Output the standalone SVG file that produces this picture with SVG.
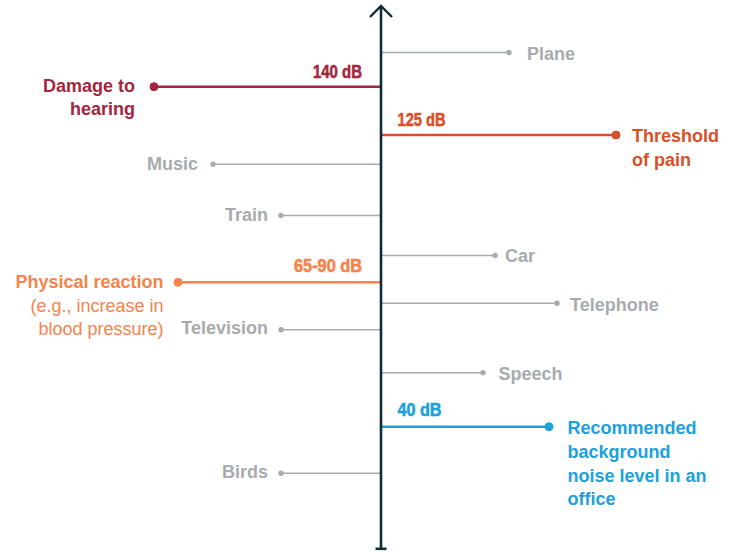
<svg xmlns="http://www.w3.org/2000/svg" width="734" height="552" viewBox="0 0 734 552">
<style>
text{font-family:"Liberation Sans",Arial,sans-serif;font-size:18px}
.b{font-weight:bold}
.g{fill:#A8ABAE}
.gl{stroke:#A8ABAE;stroke-width:1.6;fill:none}
.gd{fill:#A8ABAE}
.db{font-weight:bold;font-size:19px;stroke-width:0.6}
.r{text-anchor:end}
.c1{fill:#A4263E;stroke:#A4263E}
.c2{fill:#D8502A;stroke:#D8502A}
.c3{fill:#F5834A;stroke:#F5834A}
.c4{fill:#1BA1DC;stroke:#1BA1DC}
text.c1,text.c2,text.c3,text.c4{stroke-width:0}
text.db{stroke-width:0.6}
</style>
<rect width="734" height="552" fill="#fff"/>
<g id="connectors">
<line class="gl" x1="381" y1="52.5" x2="509" y2="52.5"/>
<line class="gl" x1="381" y1="164.3" x2="213" y2="164.3"/>
<line class="gl" x1="381" y1="215.5" x2="281" y2="215.5"/>
<line class="gl" x1="381" y1="255.5" x2="495" y2="255.5"/>
<line class="gl" x1="381" y1="303.3" x2="557" y2="303.3"/>
<line class="gl" x1="381" y1="329.8" x2="281" y2="329.8"/>
<line class="gl" x1="381" y1="372.7" x2="483" y2="372.7"/>
<line class="gl" x1="381" y1="473.3" x2="281" y2="473.3"/>
<line x1="381" y1="86.7" x2="154" y2="86.7" stroke="#A4263E" stroke-width="2.4"/>
<line x1="381" y1="135" x2="616" y2="135" stroke="#D8502A" stroke-width="2.4"/>
<line x1="381" y1="282.3" x2="178" y2="282.3" stroke="#F5834A" stroke-width="2.4"/>
<line x1="381" y1="426.7" x2="549" y2="426.7" stroke="#1BA1DC" stroke-width="2.4"/>
</g>
<g id="axis">
<line x1="381" y1="6" x2="381" y2="549" stroke="#0E2B3A" stroke-width="2.6"/>
<polyline points="370,17 381,6 392,17" fill="none" stroke="#0E2B3A" stroke-width="2.4"/>
<line x1="375.5" y1="548.8" x2="386.5" y2="548.8" stroke="#0E2B3A" stroke-width="2.6"/>
</g>
<g id="plane"><circle class="gd" cx="509" cy="52.5" r="2.7"/><text class="b g" x="527" y="59.5">Plane</text></g>
<g id="damage"><circle class="c1" cx="154" cy="86.7" r="4"/><text class="db c1 r" x="362" y="78" textLength="49" lengthAdjust="spacingAndGlyphs">140 dB</text><text class="b c1 r" x="135" y="92">Damage to</text><text class="b c1 r" x="135" y="115">hearing</text></g>
<g id="pain"><circle class="c2" cx="616" cy="135" r="4"/><text class="db c2" x="397.5" y="125.7" textLength="48" lengthAdjust="spacingAndGlyphs">125 dB</text><text class="b c2" x="632" y="141.5">Threshold</text><text class="b c2" x="632" y="166">of pain</text></g>
<g id="music"><circle class="gd" cx="213" cy="164.3" r="2.7"/><text class="b g r" x="198" y="170">Music</text></g>
<g id="train"><circle class="gd" cx="281" cy="215.5" r="2.7"/><text class="b g r" x="268" y="221">Train</text></g>
<g id="car"><circle class="gd" cx="495" cy="255.5" r="2.7"/><text class="b g" x="505" y="261.7">Car</text></g>
<g id="physical"><circle class="c3" cx="178" cy="282.3" r="4"/><text class="db c3 r" x="362" y="271.7" textLength="68" lengthAdjust="spacingAndGlyphs">65-90 dB</text><text class="b c3 r" x="163.5" y="288">Physical reaction</text><text class="c3 r" x="163.5" y="311.5">(e.g., increase in</text><text class="c3 r" x="163.5" y="335">blood pressure)</text></g>
<g id="telephone"><circle class="gd" cx="557" cy="303.3" r="2.7"/><text class="b g" x="570" y="311">Telephone</text></g>
<g id="television"><circle class="gd" cx="281" cy="329.8" r="2.7"/><text class="b g r" x="268" y="334">Television</text></g>
<g id="speech"><circle class="gd" cx="483" cy="372.7" r="2.7"/><text class="b g" x="498.5" y="380">Speech</text></g>
<g id="office"><circle class="c4" cx="549" cy="426.7" r="4"/><text class="db c4" x="397.5" y="416" textLength="44" lengthAdjust="spacingAndGlyphs">40 dB</text><text class="b c4" x="567.5" y="434">Recommended</text><text class="b c4" x="567.5" y="457.5">background</text><text class="b c4" x="567.5" y="481.5">noise level in an</text><text class="b c4" x="567.5" y="505">office</text></g>
<g id="birds"><circle class="gd" cx="281" cy="473.3" r="2.7"/><text class="b g r" x="268" y="477.7">Birds</text></g>
</svg>
